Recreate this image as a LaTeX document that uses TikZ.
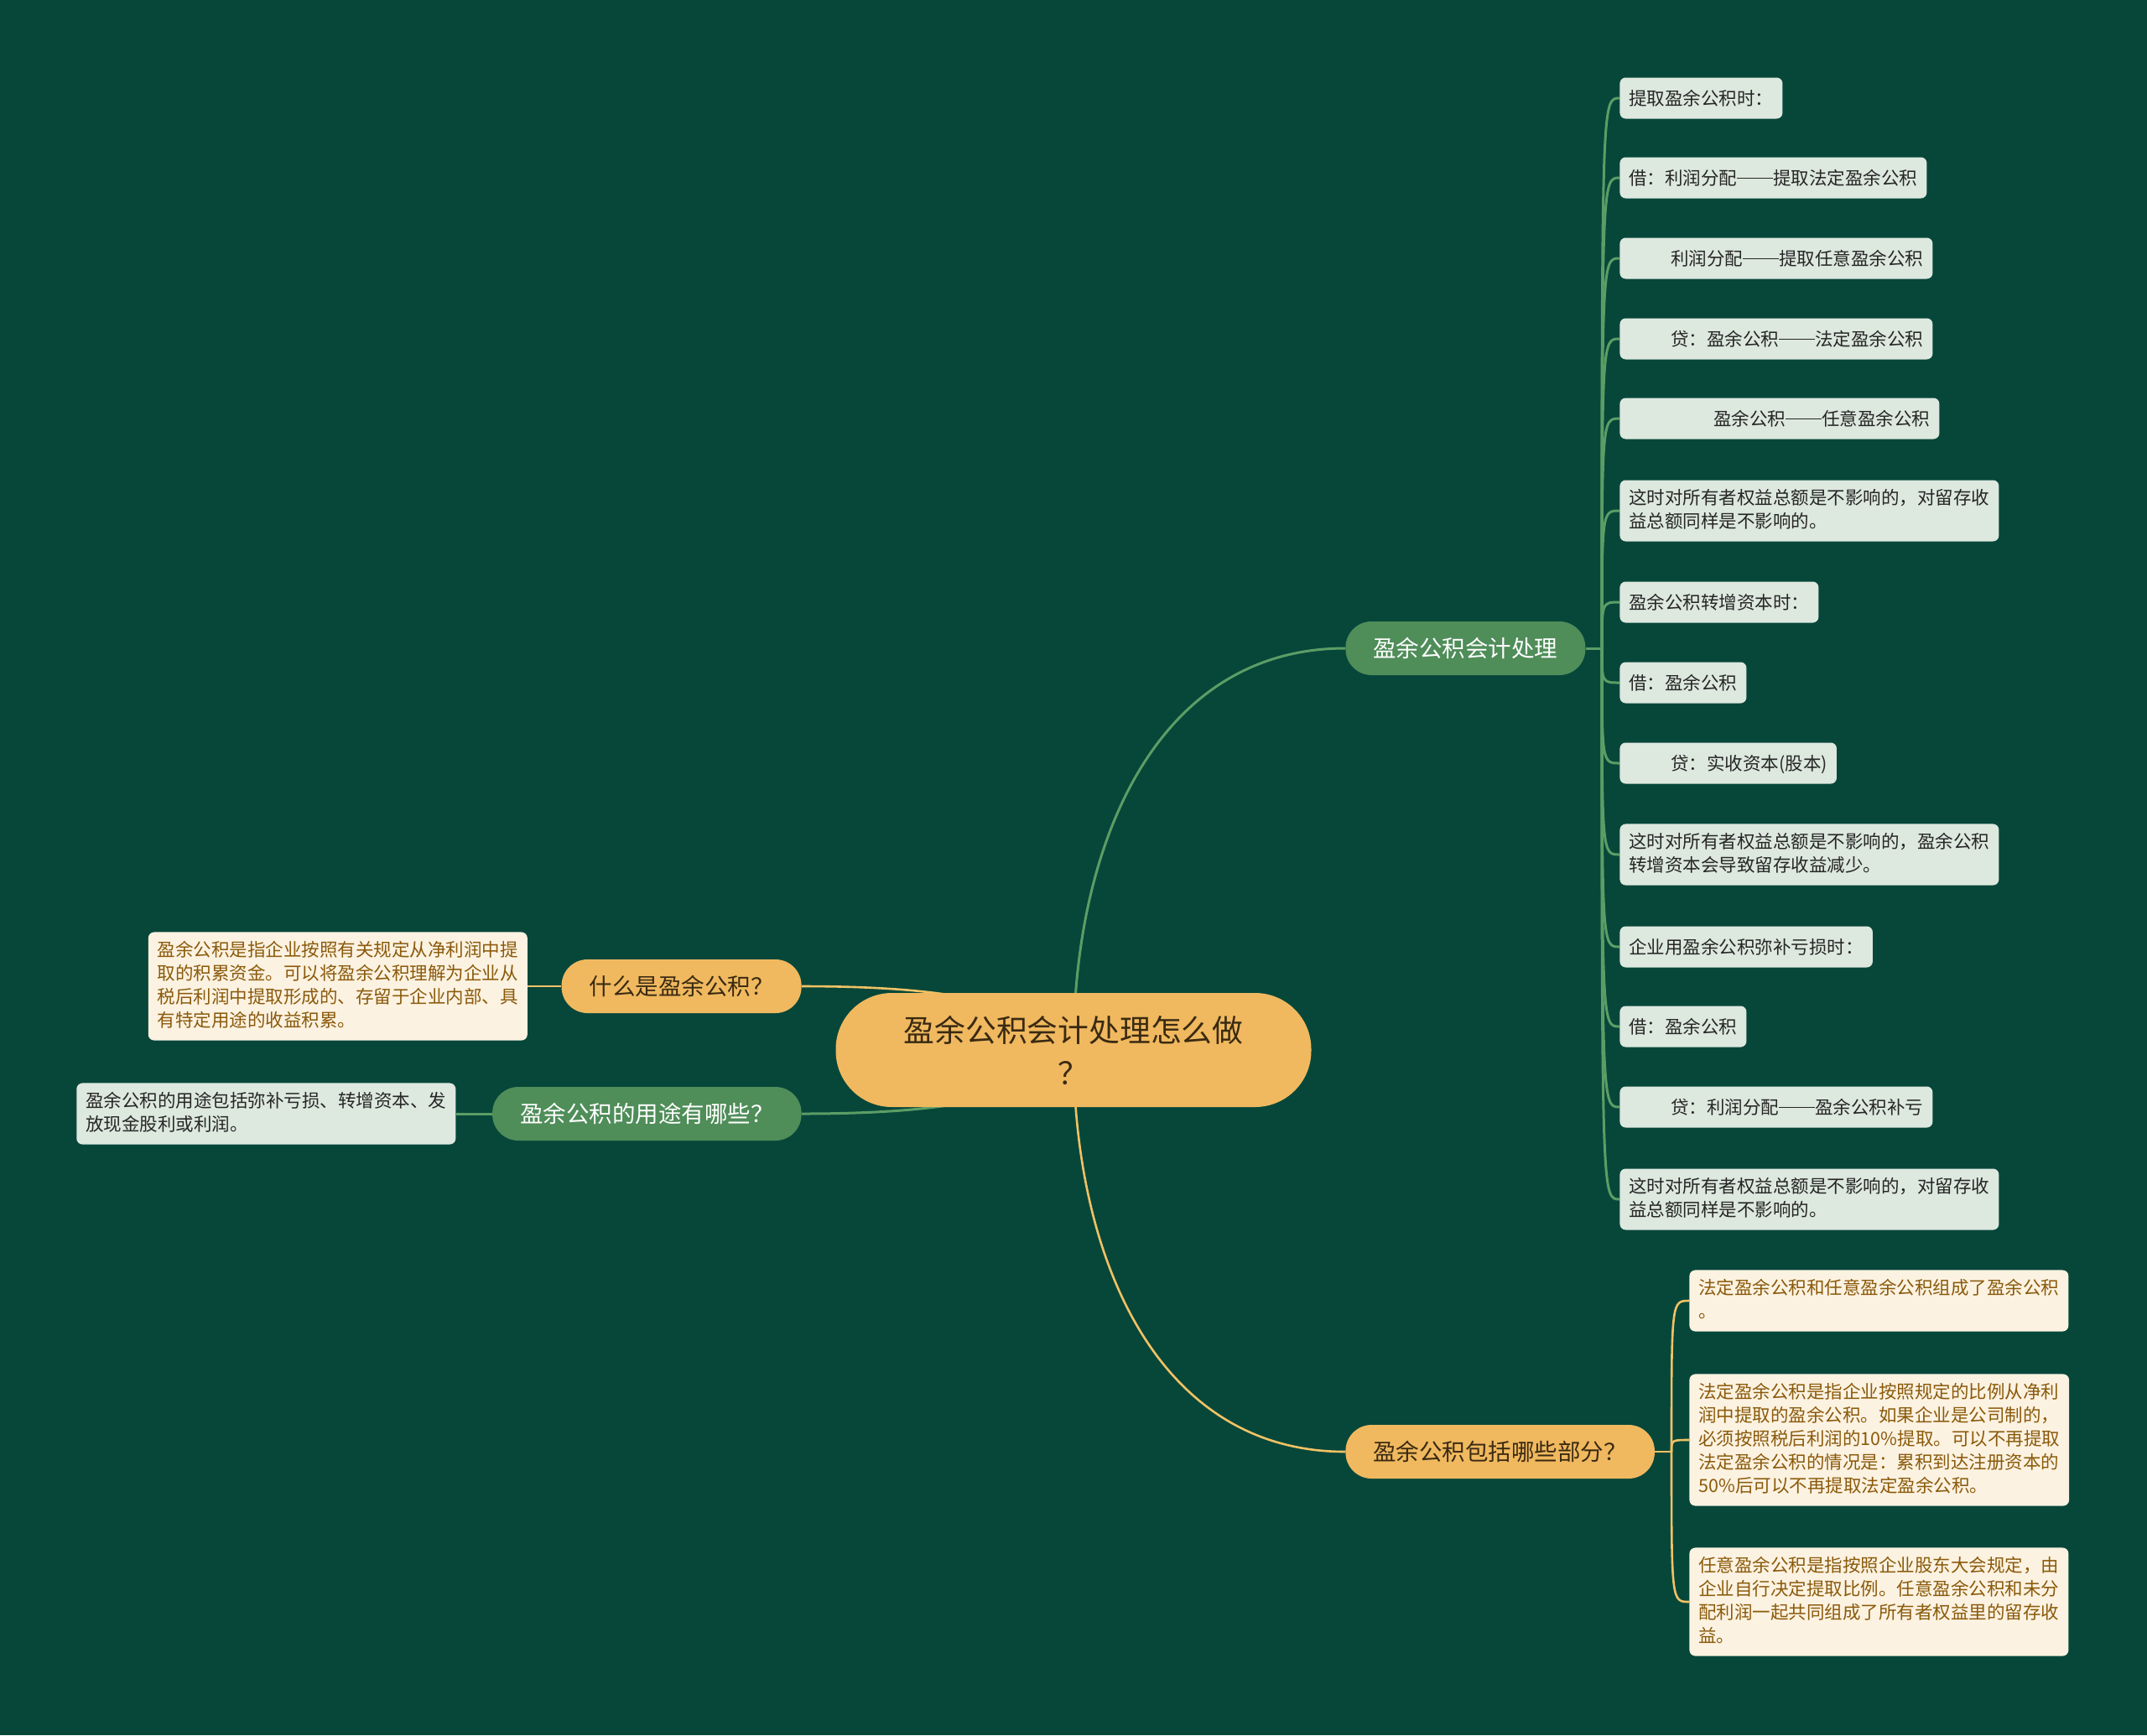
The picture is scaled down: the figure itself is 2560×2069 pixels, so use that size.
\documentclass[tikz,border=0pt]{standalone}
\usepackage{fontspec}
\setmainfont{Noto Sans CJK SC}
\usetikzlibrary{positioning, backgrounds}
\definecolor{bgcol}{HTML}{07473A}
\definecolor{topicgreen}{HTML}{4F8D59}
\definecolor{linegreen}{HTML}{5C9D66}
\definecolor{topicyellow}{HTML}{F0B95F}
\definecolor{lineyellow}{HTML}{F0C265}
\definecolor{leafgreen}{HTML}{DDE8DF}
\definecolor{leafcream}{HTML}{FCF2E1}
\definecolor{textbrown}{HTML}{8A5A0B}
\definecolor{textdark}{HTML}{3A2A12}
\newcommand{\leafstrut}{\rule[-2.9pt]{0pt}{14pt}}
\newcommand{\dashbar}{\rule[0.33em]{2em}{0.065em}}

\begin{document}
\begin{tikzpicture}[
  x=0.5pt, y=-0.5pt,
  rootnode/.style={rectangle, rounded corners=33.5pt, fill=topicyellow, text=textdark, minimum width=283.5pt, minimum height=68pt, align=center, font=\fontsize{18.4pt}{25.5pt}\selectfont},
  topic/.style={rectangle, rounded corners=15.5pt, minimum height=32pt, inner xsep=16.5pt, inner ysep=0pt, font=\fontsize{13.75pt}{16pt}\selectfont},
  gtopic/.style={topic, fill=topicgreen, text=white},
  ytopic/.style={topic, fill=topicyellow, text=textdark},
  leaf/.style={rectangle, rounded corners=3.5pt, inner xsep=5.5pt, inner ysep=5.25pt, align=left, font=\fontsize{10.75pt}{14pt}\selectfont, execute at begin node=\leafstrut, execute at end node=\leafstrut},
  gleaf/.style={leaf, fill=leafgreen, text=black!85},
  yleaf/.style={leaf, fill=leafcream, text=textbrown},
  gline/.style={draw=linegreen, line width=1.5pt},
  yline/.style={draw=lineyellow, line width=1.3pt}
]
\useasboundingbox (0,0) rectangle (2560,2069);

% Nodes
\node[rootnode] (root) at (1280,1252) {盈余公积会计处理怎么做\\？};
\node[gtopic, anchor=west] (acct) at (1604,773) {盈余公积会计处理};
\node[ytopic, anchor=west] (parts) at (1604,1731) {盈余公积包括哪些部分？};
\node[ytopic, anchor=east] (what) at (956,1176) {什么是盈余公积？};
\node[gtopic, anchor=east] (uses) at (956,1328) {盈余公积的用途有哪些？};

\node[yleaf, left=20pt of what] (whatleaf) {盈余公积是指企业按照有关规定从净利润中提\\取的积累资金。可以将盈余公积理解为企业从\\税后利润中提取形成的、存留于企业内部、具\\有特定用途的收益积累。};
\node[gleaf, left=21.5pt of uses] (usesleaf) {盈余公积的用途包括弥补亏损、转增资本、发\\放现金股利或利润。};

\node[gleaf, anchor=west] (r1) at (1931,117) {提取盈余公积时：};
\node[gleaf, anchor=west] (r2) at (1931,212) {借：利润分配\dashbar 提取法定盈余公积};
\node[gleaf, anchor=west] (r3) at (1931,308) {\hspace*{25pt}利润分配\dashbar 提取任意盈余公积};
\node[gleaf, anchor=west] (r4) at (1931,404) {\hspace*{25pt}贷：盈余公积\dashbar 法定盈余公积};
\node[gleaf, anchor=west] (r5) at (1931,499) {\hspace*{50.5pt}盈余公积\dashbar 任意盈余公积};
\node[gleaf, anchor=west] (r6) at (1931,609) {这时对所有者权益总额是不影响的，对留存收\\益总额同样是不影响的。};
\node[gleaf, anchor=west] (r7) at (1931,718) {盈余公积转增资本时：};
\node[gleaf, anchor=west] (r8) at (1931,814) {借：盈余公积};
\node[gleaf, anchor=west] (r9) at (1931,910) {\hspace*{25pt}贷：实收资本(股本)};
\node[gleaf, anchor=west] (r10) at (1931,1019) {这时对所有者权益总额是不影响的，盈余公积\\转增资本会导致留存收益减少。};
\node[gleaf, anchor=west] (r11) at (1931,1129) {企业用盈余公积弥补亏损时：};
\node[gleaf, anchor=west] (r12) at (1931,1224) {借：盈余公积};
\node[gleaf, anchor=west] (r13) at (1931,1320) {\hspace*{25pt}贷：利润分配\dashbar 盈余公积补亏};
\node[gleaf, anchor=west] (r14) at (1931,1430) {这时对所有者权益总额是不影响的，对留存收\\益总额同样是不影响的。};

\node[yleaf, anchor=west] (p1) at (2014,1551) {法定盈余公积和任意盈余公积组成了盈余公积\\。};
\node[yleaf, anchor=west] (p2) at (2014,1717) {法定盈余公积是指企业按照规定的比例从净利\\润中提取的盈余公积。如果企业是公司制的，\\必须按照税后利润的10\%提取。可以不再提取\\法定盈余公积的情况是：累积到达注册资本的\\50\%后可以不再提取法定盈余公积。};
\node[yleaf, anchor=west] (p3) at (2014,1910) {任意盈余公积是指按照企业股东大会规定，由\\企业自行决定提取比例。任意盈余公积和未分\\配利润一起共同组成了所有者权益里的留存收\\益。};

\coordinate (acctstem) at (1910,773);
\coordinate (partsstem) at (1993,1731);

% Connectors
\begin{scope}[on background layer]
\fill[bgcol] (0,0) rectangle (2560,2069);
\draw[gline] (root.center) .. controls +(0,-250) and +(-223,0) .. (acct.west);
\draw[yline] (root.center) .. controls +(0,250) and +(-223,0) .. (parts.west);
\draw[yline] (what.east) .. controls +(340,0) and +(-60,0) .. (root.center);
\draw[gline] (uses.east) .. controls +(340,0) and +(-60,0) .. (root.center);
\draw[yline] (what.west) -- (whatleaf.east);
\draw[gline] (uses.west) -- (usesleaf.east);

\draw[gline] (acct.east) -- (acctstem);
\draw[gline] (acctstem) .. controls (acctstem |- r1.west) .. (r1.west);
\draw[gline] (acctstem) .. controls (acctstem |- r2.west) .. (r2.west);
\draw[gline] (acctstem) .. controls (acctstem |- r3.west) .. (r3.west);
\draw[gline] (acctstem) .. controls (acctstem |- r4.west) .. (r4.west);
\draw[gline] (acctstem) .. controls (acctstem |- r5.west) .. (r5.west);
\draw[gline] (acctstem) .. controls (acctstem |- r6.west) .. (r6.west);
\draw[gline] (acctstem) .. controls (acctstem |- r7.west) .. (r7.west);
\draw[gline] (acctstem) .. controls (acctstem |- r8.west) .. (r8.west);
\draw[gline] (acctstem) .. controls (acctstem |- r9.west) .. (r9.west);
\draw[gline] (acctstem) .. controls (acctstem |- r10.west) .. (r10.west);
\draw[gline] (acctstem) .. controls (acctstem |- r11.west) .. (r11.west);
\draw[gline] (acctstem) .. controls (acctstem |- r12.west) .. (r12.west);
\draw[gline] (acctstem) .. controls (acctstem |- r13.west) .. (r13.west);
\draw[gline] (acctstem) .. controls (acctstem |- r14.west) .. (r14.west);

\draw[yline] (parts.east) -- (partsstem);
\draw[yline] (partsstem) .. controls (partsstem |- p1.west) .. (p1.west);
\draw[yline] (partsstem) .. controls (partsstem |- p2.west) .. (p2.west);
\draw[yline] (partsstem) .. controls (partsstem |- p3.west) .. (p3.west);
\end{scope}

\end{tikzpicture}
\end{document}
